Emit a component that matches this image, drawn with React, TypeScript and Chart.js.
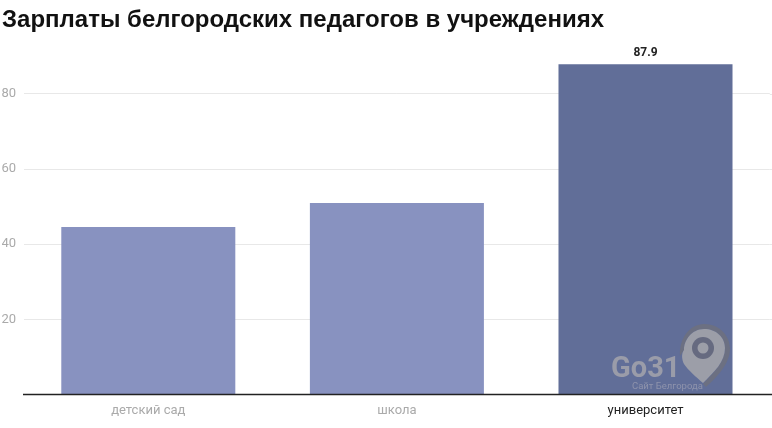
import React, { useEffect, useRef } from "react";
import { Chart, registerables } from "chart.js";

Chart.register(...registerables);

const titleText = "Зарплаты белгородских педагогов в учреждениях";
const categories = ["детский сад", "школа", "университет"];
const salaries = [44.6, 51, 87.9];
const barColors = ["#8892c0", "#8892c0", "#616e98"];
const tickColors = ["#aaaaaa", "#aaaaaa", "#222222"];
const yTicks = [20, 40, 60, 80];
const labelledBars = [2];

const FONT = "Roboto, 'Liberation Sans', Arial, sans-serif";
const GRID = "#e8e8e8";
const AXIS = "#222222";

const valueLabels = {
  id: "valueLabels",
  beforeDatasetsDraw(chart: any) {
    const { ctx, chartArea, scales, width } = chart;
    ctx.save();
    ctx.strokeStyle = GRID;
    ctx.lineWidth = 1;
    yTicks.forEach((v) => {
      const y = Math.round(scales.y.getPixelForValue(v)) + 0.5;
      ctx.beginPath();
      ctx.moveTo(chartArea.right, y);
      ctx.lineTo(width, y);
      ctx.stroke();
    });
    ctx.restore();
  },
  afterDatasetsDraw(chart: any) {
    const { ctx, chartArea, scales, width } = chart;
    const meta = chart.getDatasetMeta(0);
    ctx.save();
    ctx.strokeStyle = AXIS;
    ctx.lineWidth = 1.5;
    const y0 = scales.y.getPixelForValue(0);
    ctx.beginPath();
    ctx.moveTo(chartArea.left - 1, y0);
    ctx.lineTo(width, y0);
    ctx.stroke();
    ctx.font = `bold 12px ${FONT}`;
    ctx.fillStyle = "#222222";
    ctx.textAlign = "center";
    ctx.textBaseline = "bottom";
    labelledBars.forEach((i) => {
      const el = meta.data[i];
      ctx.fillText(salaries[i].toFixed(1), el.x, el.y - 5);
    });
    ctx.restore();
  },
};

export default function App() {
  const ref = useRef<HTMLCanvasElement>(null);
  useEffect(() => {
    document.body.style.margin = "0";
    const chart = new Chart(ref.current!, {
      type: "bar",
      data: {
        labels: categories,
        datasets: [
          {
            data: salaries,
            backgroundColor: barColors,
            categoryPercentage: 0.7,
            barPercentage: 1,
          },
        ],
      },
      options: {
        animation: false,
        responsive: false,
        layout: { padding: { left: 2, right: 2.2, top: 0, bottom: 0 } },
        plugins: {
          legend: { display: false },
          tooltip: { enabled: false },
          title: {
            display: true,
            text: titleText,
            align: "start",
            color: "#111111",
            font: { family: "'Liberation Sans', Arial, sans-serif", size: 24, weight: "bold", lineHeight: 1.2 },
            padding: { top: 6, bottom: 21.6 },
          },
        },
        scales: {
          x: {
            grid: { display: false, drawTicks: false },
            border: { display: false },
            ticks: {
              color: tickColors,
              font: { family: FONT, size: 13 },
              padding: 8,
              maxRotation: 0,
            },
            afterFit(scale: any) {
              scale.height = 33.5;
            },
          },
          y: {
            min: 0,
            max: 90,
            grid: { color: GRID, drawTicks: false, lineWidth: 1 },
            border: { display: false },
            ticks: {
              color: "#aaaaaa",
              font: { family: FONT, size: 13 },
              padding: 8,
            },
            afterBuildTicks(scale: any) {
              scale.ticks = yTicks.map((value) => ({ value }));
            },
            afterFit(scale: any) {
              scale.width = 22;
            },
          },
        },
      },
      plugins: [valueLabels],
    } as any);
    return () => chart.destroy();
  }, []);

  return (
    <div style={{ position: "relative", width: 772, height: 428, overflow: "hidden" }}>
      <canvas ref={ref} width={772} height={428} style={{ display: "block" }} />
      <svg
        width={70}
        height={72}
        viewBox="0 0 70 72"
        style={{ position: "absolute", left: 670, top: 320 }}
      >
        <path
          d="M10 36 C9 18 20 4 34 4 C50 4 60 16 60 29 C60 44 46 58 36 67 L33 64 C44 52 55 42 55 28 C55 17 46 9 34 9 C22 9 14 20 14 30 Z"
          fill="#6c7082"
        />
        <path
          d="M14 30 C14 20 22 9 34 9 C46 9 55 17 55 28 C55 42 44 52 33 63 C26 57 18 50 14 44 C12 40 11 34 14 30 Z"
          fill="#9c9ea8"
        />
        <circle cx={33} cy={28} r={11} fill="#666a80" />
        <circle cx={33} cy={28} r={5.5} fill="#9c9ea8" />
      </svg>
      <div
        style={{
          position: "absolute",
          left: 611,
          top: 351,
          color: "#9a9ca9",
          fontFamily: FONT,
          fontWeight: 700,
          fontSize: 29,
          lineHeight: "32px",
        }}
      >
        Go31
      </div>
      <div
        style={{
          position: "absolute",
          left: 632,
          top: 380,
          color: "#8e93ac",
          fontFamily: FONT,
          fontSize: 9.5,
          lineHeight: "11px",
          whiteSpace: "nowrap",
        }}
      >
        Сайт Белгорода
      </div>
    </div>
  );
}
